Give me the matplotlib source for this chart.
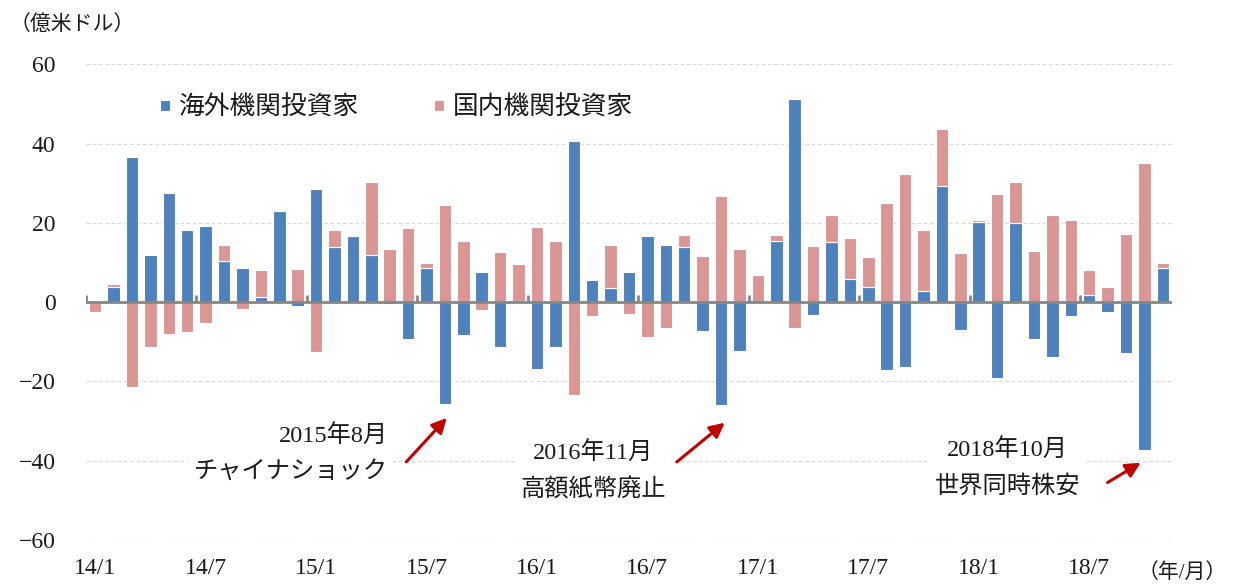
import numpy as np
import matplotlib
matplotlib.use("Agg")
import matplotlib.pyplot as plt

plt.rcParams['font.family'] = ['Liberation Serif', 'Noto Sans CJK JP']
plt.rcParams['axes.unicode_minus'] = True

# 2014/1 - 2018/11 monthly, 億米ドル
foreign = [0.0, 3.9, 36.5, 11.9, 27.5, 18.1, 19.2, 10.3, 8.7, 1.2, 22.9, -0.9,
           28.5, 14.0, 16.6, 11.8, -0.5, -9.3, 8.6, -25.7, -8.3, 7.6, -11.2, 0.4,
           -16.8, -11.4, 40.7, 5.6, 3.5, 7.5, 16.6, 14.4, 13.8, -7.2, -25.9, -12.2,
           0.0, 15.3, 51.2, -3.2, 15.2, 5.8, 3.7, -17.1, -16.3, 2.7, 29.3, -7.1,
           20.1, -19.2, 19.9, -9.2, -13.9, -3.5, 1.8, -2.5, -12.9, -37.2, 8.5]
domestic = [-2.5, 0.6, -21.5, -11.3, -8.0, -7.6, -5.3, 4.0, -1.8, 6.9, 0.0, 8.4,
            -12.7, 4.2, 0.0, 18.4, 13.4, 18.7, 1.3, 24.5, 15.3, -2.1, 12.6, 9.3,
            19.0, 15.3, -23.4, -3.4, 10.9, -3.1, -8.8, -6.4, 3.1, 11.7, 26.7, 13.3,
            6.8, 1.6, -6.4, 14.2, 6.7, 10.3, 7.6, 25.1, 32.3, 15.6, 14.3, 12.5,
            0.7, 27.4, 10.4, 12.8, 22.0, 20.7, 6.3, 3.9, 17.1, 35.1, 1.3]
tick_labels = ['14/1', '14/7', '15/1', '15/7', '16/1', '16/7',
               '17/1', '17/7', '18/1', '18/7']
series_names = ['海外機関投資家', '国内機関投資家']

BLUE = '#4F81BD'
PINK = '#D99694'
TXT = '#1a1a1a'

foreign = np.array(foreign)
domestic = np.array(domestic)
x = np.arange(len(foreign))

# excel-style stacking: positives on positives, negatives on negatives
same_side = ((domestic >= 0) & (foreign > 0)) | ((domestic < 0) & (foreign < 0))
dom_bottom = np.where(same_side, foreign, 0)

fig = plt.figure(figsize=(12.33, 5.88), dpi=100)
ax = fig.add_axes([86 / 1233, 1 - 540 / 588, 1086 / 1233, 475.7 / 588])

for y in [60, 40, 20, -20, -40, -60]:
    ax.axhline(y, color='#D9D9D9', lw=0.9, ls=(0, (3, 2)), zorder=0)

ax.bar(x, foreign, width=0.68, color=BLUE, edgecolor='white', lw=0.8,
       label=series_names[0], zorder=2)
ax.bar(x, domestic, width=0.68, bottom=dom_bottom, color=PINK, edgecolor='white',
       lw=0.8, label=series_names[1], zorder=2)

# zero axis with small ticks between categories every 6 months
ax.axhline(0, color='#868686', lw=2, zorder=3)
ax.vlines(np.arange(-0.5, len(x) - 1, 6), 0, 1.9, color='#868686', lw=2, zorder=3)

ax.set_xlim(-0.5, len(x) - 0.5)
ax.set_ylim(-60, 60)
ax.set_yticks([60, 40, 20, 0, -20, -40, -60])
ax.set_xticks(np.arange(0, len(x), 6))
ax.set_xticklabels(tick_labels)
ax.tick_params(axis='x', length=0, pad=13, labelsize=17, labelcolor=TXT)
ax.tick_params(axis='y', length=0, pad=22, labelsize=17, labelcolor=TXT)
for s in ax.spines.values():
    s.set_visible(False)

leg = ax.legend(loc='center left', bbox_to_anchor=(160 / 1233, 1 - 108 / 588),
                bbox_transform=fig.transFigure, ncol=2, frameon=False,
                fontsize=18.5, handlelength=0.4, handleheight=0.3,
                handletextpad=0.35, columnspacing=2.9, borderpad=0, borderaxespad=0)
for t in leg.get_texts():
    t.set_color(TXT)

fig.text(10 / 1233, 1 - 25 / 588, '（億米ドル）', fontsize=15, color=TXT, va='center')
fig.text(1182 / 1233, 1 - 573 / 588, '（年/月）', fontsize=15, color=TXT,
         va='center', ha='center')

box = dict(facecolor='white', edgecolor='none', pad=4)
arrow = dict(arrowstyle='-|>', color='#C00000', lw=2.2, mutation_scale=22,
             shrinkA=0, shrinkB=0)

ax.text(15.9, -38.3, '2015年8月\nチャイナショック', ha='right', va='center',
        fontsize=17.5, color=TXT, linespacing=1.75, bbox=box, zorder=4)
ax.annotate('', xy=(19.1, -29.2), xytext=(16.9, -40.3), arrowprops=arrow, zorder=5)

ax.text(27.05, -42.8, '2016年11月\n高額紙幣廃止', ha='center', va='center',
        fontsize=17.5, color=TXT, linespacing=1.75, bbox=box, zorder=4)
ax.annotate('', xy=(34.2, -30.4), xytext=(31.6, -40.3), arrowprops=arrow, zorder=5)

ax.text(49.55, -42.0, '2018年10月\n世界同時株安', ha='center', va='center',
        fontsize=17.5, color=TXT, linespacing=1.75, bbox=box, zorder=4)
ax.annotate('', xy=(56.8, -40.5), xytext=(55.0, -45.5), arrowprops=arrow, zorder=5)

fig.savefig('out.png', dpi=100)
